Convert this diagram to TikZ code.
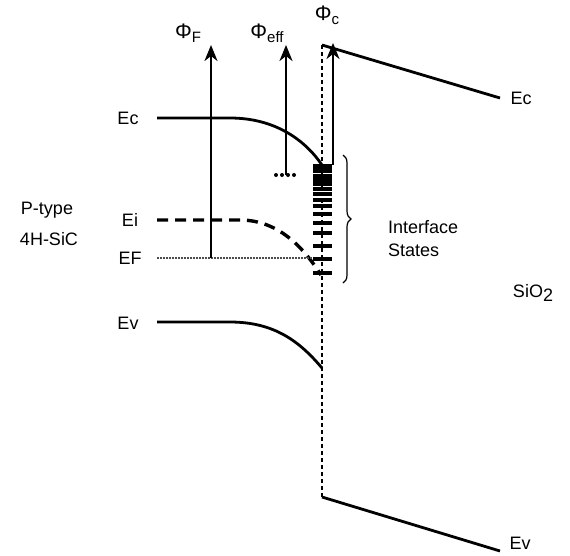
\documentclass[tikz,border=0pt]{standalone}
\usepackage{fontspec}
\setmainfont{Liberation Sans}
\usetikzlibrary{arrows.meta,decorations.pathreplacing}
\newcommand{\phisub}[1]{{\fontsize{21}{22}\selectfont Φ}\raisebox{-4pt}{\fontsize{15}{16}\selectfont #1}}
\begin{document}
\begin{tikzpicture}[x=1pt,y=-1pt,
  lbl/.style={font=\fontsize{18}{20}\selectfont, inner sep=0pt},
  band/.style={line width=2.8pt},
  arr/.style={line width=2.4pt,-{Stealth[length=16pt,width=13pt,inset=5pt]}},
  tick/.style={line width=3.2pt},
  iface/.style={line width=1.5pt,dash pattern=on 4pt off 3pt}]
\useasboundingbox (0,0) rectangle (570,555);
% interface line
\coordinate (top) at (322,45);
\coordinate (bot) at (322,497);
\draw[iface] (top) -- (bot);
% oxide bands
\coordinate (ecox) at (500,98);
\coordinate (evox) at (500,551);
\draw[band] (top) -- (ecox);
\draw[band] (bot) -- (evox);
% SiC bands
\coordinate (ec0) at (157,118);
\coordinate (ec1) at (322,165);
\draw[band] (ec0) -- (230,118) .. controls (275,118) and (305,140) .. (ec1);
\coordinate (ei0) at (157,220);
\coordinate (ei1) at (321,275);
\draw[line width=3.4pt,dash pattern=on 11pt off 7pt] (ei0) -- (240,220) .. controls (280,220) and (305,250) .. (ei1);
\coordinate (ef0) at (157,258);
\coordinate (ef1) at (318,258);
\draw[line width=2pt,black!70,densely dotted] (ef0) -- (ef1);
\coordinate (ev0) at (157,322);
\coordinate (ev1) at (322,368);
\draw[band] (ev0) -- (230,322) .. controls (275,322) and (300,342) .. (ev1);
% interface states
\fill (313,164) rectangle (332,173);
\foreach \y in {176,180,184,189,194,200,206,214,223,233,246,259,273}
  \draw[tick] (313,\y) -- (332,\y);
% arrows
\coordinate (fF0) at (211,258);
\coordinate (fF1) at (211,45);
\draw[arr] (fF0) -- (fF1);
\coordinate (fe0) at (286,175);
\coordinate (fe1) at (286,45);
\draw[arr] (fe0) -- (fe1);
\coordinate (fc0) at (333,165);
\coordinate (fc1) at (333,43);
\draw[arr] (fc0) -- (fc1);
\foreach \x in {276,282,288,294}
  \fill (\x,175) circle (2pt);
% brace
\coordinate (br0) at (343,283);
\coordinate (br1) at (343,155);
\draw[line width=1.2pt,decorate,decoration={brace,amplitude=8pt}] (br1) -- (br0);
% labels
\node[lbl] (phiF) at (188,33) {\phisub{F}};
\node[lbl] (phie) at (267,33) {\phisub{eff}};
\node[lbl] (phic) at (327,15) {\phisub{c}};
\node[lbl] (lEc) at (128,118) {Ec};
\node[lbl] (lEi) at (130,220) {Ei};
\node[lbl] (lEF) at (130,258) {EF};
\node[lbl] (lEv) at (128,323) {Ev};
\node[lbl] (ptype) at (47,210) {P-type};
\node[lbl] (sic) at (49,239) {4H-SiC};
\node[lbl,anchor=west] (intf) at (388,227) {Interface};
\node[lbl,anchor=west] (stat) at (388,250) {States};
\node[lbl] (sio2) at (533,293) {SiO\raisebox{-4pt}{2}};
\node[lbl] (rEc) at (521,98) {Ec};
\node[lbl] (rEv) at (520,543) {Ev};
\end{tikzpicture}
\end{document}
